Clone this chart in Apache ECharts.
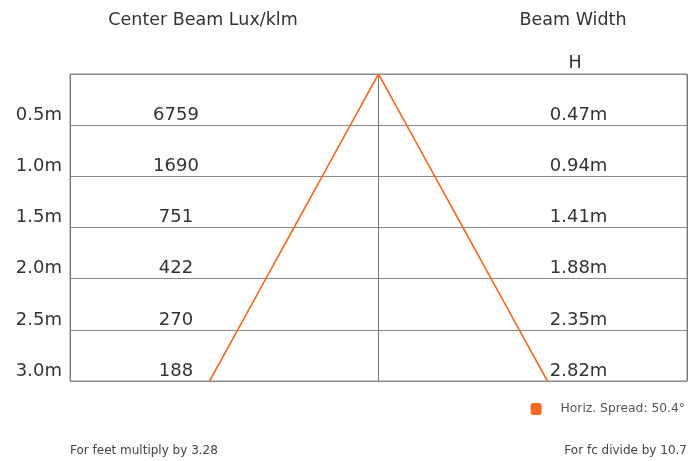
<!DOCTYPE html>
<html>
<head>
<meta charset="utf-8">
<script src="https://cdn.jsdelivr.net/npm/echarts@6/dist/echarts.min.js"></script>
<style>
  html, body { margin: 0; padding: 0; background: #fff; }
  #chart { width: 695px; height: 461px; }
</style>
</head>
<body>
<div id="chart"></div>
<script>
// distances from the fixture (m)
const distances = [0.5, 1.0, 1.5, 2.0, 2.5, 3.0];
// center beam lux per klm
const luxValues = [6759, 1690, 751, 422, 270, 188];
// horizontal beam width (m)
const beamWidths = [0.47, 0.94, 1.41, 1.88, 2.35, 2.82];
const spreadName = "Horiz. Spread: 50.4°";

// layout constants (not data)
const X_HALF = 2.575;   // half width of the drawing area in metres
const LUX_X = -1.69;    // column of lux values
const WIDTH_X = 1.67;   // column of beam width values
const FONT = "'DejaVu Sans', sans-serif";
const FW = "normal";
const INK = "#333";
const ORANGE = "#f26b21";

// beam outline: left edge bottom -> apex -> right edge bottom
const beamLine = [];
for (let i = distances.length - 1; i >= 0; i--) beamLine.push([-beamWidths[i] / 2, distances[i]]);
beamLine.push([0, 0]);
for (let i = 0; i < distances.length; i++) beamLine.push([beamWidths[i] / 2, distances[i]]);

const chart = echarts.init(document.getElementById("chart"));
chart.setOption({
  animation: false,
  grid: {
    left: 70, right: 8, top: 74, bottom: 80,
    show: true, borderColor: "#8a8a8a", borderWidth: 1
  },
  legend: {
    data: [{ name: spreadName, icon: "roundRect" }],
    right: 5, top: 398,
    itemWidth: 11, itemHeight: 12,
    textStyle: { color: "#555", fontSize: 12.3, fontFamily: FONT, fontWeight: FW, padding: [0, 0, 0, 14] }
  },
  xAxis: {
    type: "value", min: -X_HALF, max: X_HALF, interval: X_HALF,
    axisLabel: { show: false }, axisTick: { show: false },
    axisLine: { show: false },
    splitLine: { show: true, lineStyle: { color: "#777", width: 1 } }
  },
  yAxis: {
    type: "value", inverse: true, min: 0, max: 3, interval: 0.5,
    axisTick: { show: false },
    axisLine: { show: false },
    splitLine: { show: true, lineStyle: { color: "#8a8a8a", width: 1 } },
    axisLabel: {
      margin: 8,
      verticalAlign: "bottom",
      padding: [0, 0, 1, 0],
      color: INK, fontSize: 18, fontFamily: FONT, fontWeight: FW,
      formatter: v => (v === 0 ? "" : v.toFixed(1) + "m")
    }
  },
  graphic: [
    { type: "text", x: 203, y: 20, style: { text: "Center Beam Lux/klm", align: "center", verticalAlign: "middle", fill: INK, font: FW + " 17.5px " + FONT } },
    { type: "text", x: 573, y: 20, style: { text: "Beam Width", align: "center", verticalAlign: "middle", fill: INK, font: FW + " 17.5px " + FONT } },
    { type: "text", x: 575, y: 63, style: { text: "H", align: "center", verticalAlign: "middle", fill: INK, font: FW + " 17.5px " + FONT } },
    { type: "text", x: 70, y: 451, style: { text: "For feet multiply by 3.28", align: "left", verticalAlign: "middle", fill: "#444", font: FW + " 12px " + FONT } },
    { type: "text", x: 687, y: 451, style: { text: "For fc divide by 10.7", align: "right", verticalAlign: "middle", fill: "#444", font: FW + " 12px " + FONT } }
  ],
  series: [
    {
      name: spreadName,
      type: "line",
      data: beamLine,
      showSymbol: false,
      color: ORANGE,
      lineStyle: { color: ORANGE, width: 1.6 },
      z: 3
    },
    {
      type: "scatter",
      symbolSize: 0,
      itemStyle: { opacity: 1 },
      data: distances.map((d, i) => [LUX_X, d, luxValues[i]]),
      label: {
        show: true, position: "top", distance: 1, opacity: 1,
        color: INK, fontSize: 18, fontFamily: FONT, fontWeight: FW,
        formatter: p => String(p.value[2])
      }
    },
    {
      type: "scatter",
      symbolSize: 0,
      itemStyle: { opacity: 1 },
      data: distances.map((d, i) => [WIDTH_X, d, beamWidths[i]]),
      label: {
        show: true, position: "top", distance: 1, opacity: 1,
        color: INK, fontSize: 18, fontFamily: FONT, fontWeight: FW,
        formatter: p => p.value[2].toFixed(2) + "m"
      }
    }
  ]
});
</script>
</body>
</html>
